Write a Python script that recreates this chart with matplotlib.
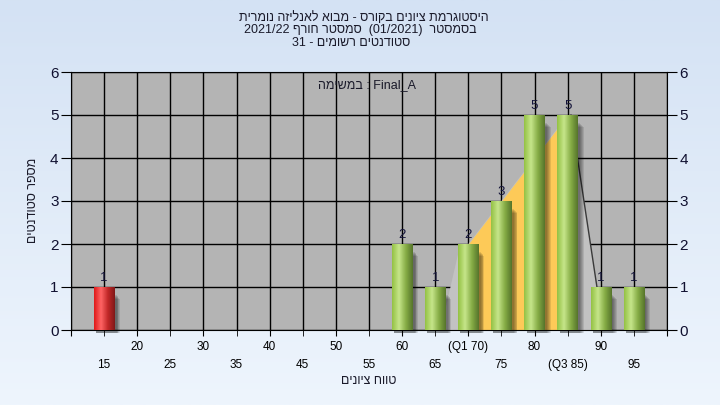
import numpy as np
import matplotlib.pyplot as plt
from matplotlib.colors import LinearSegmentedColormap
from matplotlib.patches import Rectangle, Polygon

plt.rcParams['font.family'] = ['Liberation Sans', 'DejaVu Sans']

# histogram data
grades = [15, 60, 65, 70, 75, 80, 85, 90, 95]
counts = [1, 2, 1, 2, 3, 5, 5, 1, 1]
failing = [True, False, False, False, False, False, False, False, False]

major_ticks = [10, 20, 30, 40, 50, 60, 70, 80, 90, 100]
major_labels = ['', '20', '30', '40', '50', '60', '(Q1 70)', '80', '90', '']
minor_ticks = [15, 25, 35, 45, 55, 65, 75, 85, 95]
minor_labels = ['15', '25', '35', '45', '55', '65', '75', '(Q3 85)', '95']

# quartile band (orange) and spread area (light gray)
iqr_x = [70, 85]
iqr_y = [2, 5]
spread_x = [65.8, 68.8, 70, 85, 85.5, 90.4]
spread_y = [0, 2, 2, 5, 5, 0]

title_lines = ['היסטוגרמת ציונים בקורס - מבוא לאנליזה נומרית',
               'בסמסטר  (01/2021)  סמסטר חורף 2021/22',
               'סטודנטים רשומים - 31']
task_label = 'במשימה : Final_A'
x_title = 'טווח ציונים'
y_title = 'מספר סטודנטים'


def is_heb(w):
    return any('\u0590' <= c <= '\u05ff' for c in w)


def rtl(s):
    # matplotlib has no bidi: lay out right-to-left by hand
    words = s.split(' ')[::-1]
    return ' '.join(w[::-1] if is_heb(w) else w for w in words)


def ltr(s):
    return ' '.join(w[::-1] if is_heb(w) else w for w in s.split(' '))


fig = plt.figure(figsize=(7.2, 4.05), dpi=100)

# background gradient
bg = fig.add_axes([0, 0, 1, 1], zorder=-10)
bg.imshow(np.linspace(0, 1, 256)[:, None],
          cmap=LinearSegmentedColormap.from_list('bg', ['#d4e2f4', '#eef5fd']),
          aspect='auto', extent=[0, 1, 0, 1])
bg.axis('off')

ax = fig.add_axes([71 / 720, 75 / 405, 596 / 720, 258 / 405])
ax.set_facecolor('#b4b4b4')

# areas behind the bars
ax.add_patch(Polygon(list(zip(spread_x, spread_y)), closed=True,
                     facecolor='#c2c2c2', edgecolor='none', zorder=1))
ax.plot(spread_x[-2:], spread_y[-2:], color='#3a3a3a', lw=1, zorder=1.5)
ax.fill_between(iqr_x, iqr_y, 0, color='#fdca58', lw=0, zorder=1.2)

green = LinearSegmentedColormap.from_list('g', ['#94c244', '#c6e58a', '#86ad46', '#56752b'])
red = LinearSegmentedColormap.from_list('r', ['#e01818', '#ff6464', '#c22828', '#801818'])
grad = np.linspace(0, 1, 64)[None, :]
w = 3.1

for g, c, f in zip(grades, counts, failing):
    # soft shadow
    for k in range(5):
        ax.add_patch(Rectangle((g - w / 2 + 0.35, -0.07), w + 0.13 * k, c - 0.12 - 0.02 * k,
                               facecolor='black', alpha=0.1, lw=0, zorder=2, clip_on=False))
    ax.imshow(grad, cmap=red if f else green, extent=[g - w / 2, g + w / 2, 0, c],
              aspect='auto', interpolation='bilinear', zorder=3)
    ax.text(g, c + 0.07, str(c), ha='center', va='bottom', fontsize=9.5,
            color='#14143a', zorder=4)

ax.set_xlim(10, 100)
ax.set_ylim(0, 6)

ax.set_xticks(major_ticks)
ax.set_xticklabels(major_labels)
ax.set_xticks(minor_ticks, minor=True)
ax.set_xticklabels(minor_labels, minor=True)
ax.tick_params(axis='x', which='major', length=4, pad=4, labelsize=8.5)
ax.tick_params(axis='x', which='minor', length=4, pad=17, labelsize=8.5)

ax.set_yticks(range(7))
ax.tick_params(axis='y', left=True, right=True, labelleft=True, labelright=True,
               length=7, labelsize=11, labelcolor='#101030', pad=2)

ax.grid(which='both', color='black', lw=1)
ax.set_axisbelow(True)
for s in ax.spines.values():
    s.set_color('black')

# texts
txt = dict(ha='center', va='center', fontsize=9, color='#1a1a2a')
fig.text(0.505, 1 - 18 / 405, rtl(title_lines[0]), **txt)
fig.text(0.5, 1 - 30 / 405, rtl(title_lines[1]), **txt)
fig.text(0.487, 1 - 43 / 405, rtl(title_lines[2]), **txt)
fig.text(367 / 720, 1 - 85 / 405, ltr(task_label), **txt)
fig.text(369 / 720, 1 - 381 / 405, rtl(x_title), **txt)
fig.text(33 / 720, 1 - 200 / 405, rtl(y_title), rotation=90, **txt)

fig.savefig('out.png', dpi=100)
